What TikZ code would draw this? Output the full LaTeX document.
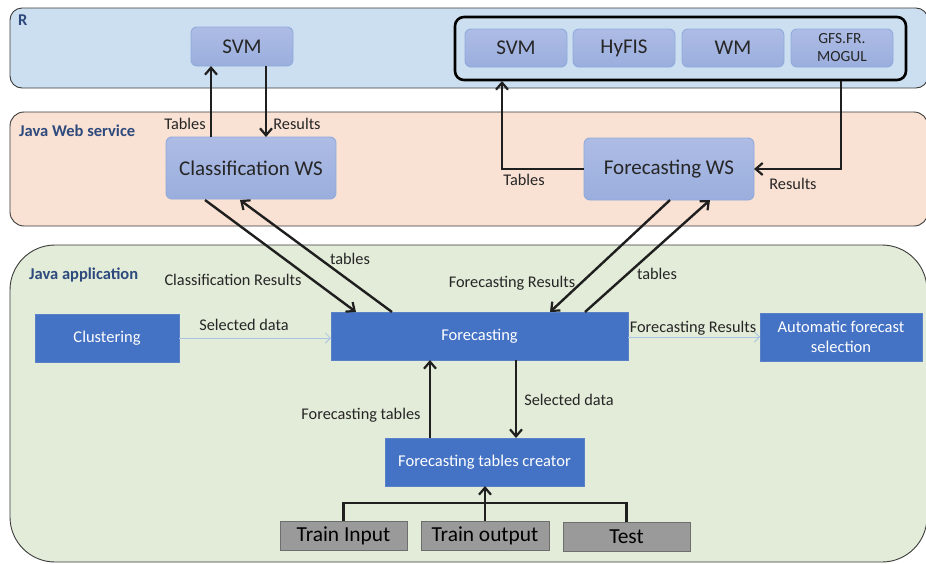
\documentclass[tikz,border=0pt]{standalone}
\usepackage{fontspec}
\setmainfont{Carlito}
\usetikzlibrary{arrows.meta}
\definecolor{rband}{HTML}{CCDFF0}
\definecolor{wsband}{HTML}{F9E1D3}
\definecolor{appband}{HTML}{E2ECD8}
\definecolor{bandline}{HTML}{3A3A3A}
\definecolor{navy}{HTML}{2E4A7D}
\definecolor{svctop}{HTML}{AEBCE5}
\definecolor{svcbot}{HTML}{9AAEDD}
\definecolor{svcline}{HTML}{8FAADC}
\definecolor{modfill}{HTML}{4472C4}
\definecolor{modline}{HTML}{5A80C8}
\definecolor{datafill}{HTML}{9A9A9A}
\definecolor{dataline}{HTML}{6E6E6E}
\definecolor{txt}{HTML}{262626}
\definecolor{thinflow}{HTML}{A9C4E4}
\tikzset{
  band/.style={draw=bandline, line width=0.9pt},
  bandtitle/.style={text=navy, font=\bfseries\fontsize{16.5}{18}\selectfont, anchor=west, inner sep=0},
  svc/.style={draw=svcline, line width=0.9pt, top color=svctop, bottom color=svcbot,
    rounded corners=6pt, inner sep=0, outer sep=0, text=txt},
  svcname/.style={font=\fontsize{21}{23}\selectfont},
  module/.style={draw=modline, line width=0.8pt, fill=modfill, text=white, inner sep=0, outer sep=0,
    font=\fontsize{16.5}{19.5}\selectfont, align=center},
  datafile/.style={draw=dataline, line width=0.9pt, fill=datafill, text=black, inner sep=0, outer sep=0,
    font=\fontsize{21.4}{23}\selectfont},
  flow/.style={line width=2.4pt, draw=black!88, -{Straight Barb[length=7pt,width=12pt,line width=2.2pt]}},
  plain/.style={line width=2.4pt, draw=black!88},
  thin/.style={line width=0.8pt, draw=thinflow, -{Straight Barb[length=5pt,width=10pt,line width=0.8pt]}},
  lbl/.style={text=txt, font=\fontsize{16.3}{18}\selectfont, inner sep=0}
}
\begin{document}
\begin{tikzpicture}[x=1pt,y=-1pt]
\useasboundingbox (0,0) rectangle (926,563);
% layer bands
\draw[band, fill=rband, rounded corners=12pt] (10,8) rectangle (928,88);
\draw[band, fill=wsband, rounded corners=14pt] (10,112) rectangle (928,226);
\draw[band, fill=appband, rounded corners=45pt] (10,245) rectangle (927,562);
\node[bandtitle] (tR) at (18,20) {R};
\node[bandtitle] (tWS) at (19,131) {Java Web service};
\node[bandtitle] (tApp) at (29,275) {Java application};

% R services
\node[svc, svcname, minimum width=102pt, minimum height=39pt] (svmA) at (242,46.5) {SVM};
\draw[line width=2.6pt, rounded corners=9pt] (455,17) rectangle (906,80);
\node[svc, svcname, minimum width=102pt, minimum height=38pt] (svmB) at (516,48) {SVM};
\node[svc, svcname, minimum width=102pt, minimum height=38pt] (hyfis) at (624,48) {HyFIS};
\node[svc, svcname, minimum width=102pt, minimum height=38pt] (wm) at (733,48) {WM};
\node[svc, minimum width=102pt, minimum height=38pt, font=\fontsize{15.5}{18}\selectfont, align=center] (gfs) at (842,48) {GFS.FR.\\MOGUL};
\coordinate (grpL) at (502,81);
\coordinate (grpR) at (841,81);

% web services
\node[svc, minimum width=170pt, minimum height=62pt, font=\fontsize{21}{23}\selectfont] (cws) at (251,168) {Classification WS};
\node[svc, minimum width=170pt, minimum height=62pt, font=\fontsize{21}{23}\selectfont] (fws) at (669,169) {Forecasting WS};

% application modules
\node[module, minimum width=144pt, minimum height=48pt] (clu) at (107,338) {Clustering};
\node[module, minimum width=297pt, minimum height=48pt] (fc) at (479.5,336) {Forecasting};
\node[module, minimum width=162pt, minimum height=48pt] (afs) at (841,337) {Automatic forecast\\selection};
\node[module, minimum width=199pt, minimum height=48pt] (ftc) at (484.5,462) {Forecasting tables creator};

% input data
\node[datafile, minimum width=127pt, minimum height=29pt] (tin) at (343.5,535.5) {Train Input};
\node[datafile, minimum width=128pt, minimum height=29pt] (tout) at (485,535.5) {Train output};
\node[datafile, minimum width=127pt, minimum height=29pt] (test) at (626.5,536.5) {Test};

% Classification WS <-> SVM
\draw[flow] (cws.north -| 211,0) -- (svmA.south -| 211,0);
\draw[flow] (svmA.south -| 266,0) -- (cws.north -| 266,0);
\node[lbl] (lTab1) at (185,124) {Tables};
\node[lbl] (lRes1) at (297,124) {Results};

% Forecasting WS <-> R models
\draw[flow] (fws.west) -- (502,169) -- (grpL);
\draw[flow] (grpR) -- (841,169) -- (fws.east);
\node[lbl] (lTab2) at (524,180) {Tables};
\node[lbl] (lRes2) at (793,184) {Results};

% Forecasting <-> Classification WS
\coordinate (cwsA) at (205,200);
\coordinate (cwsB) at (240,200);
\coordinate (fcA) at (356,312);
\coordinate (fcB) at (392,312);
\draw[flow] (cwsA) -- (fcA);
\draw[flow] (fcB) -- (cwsB);
\node[lbl] (lCR) at (233,280) {Classification Results};
\node[lbl] (lT3) at (350,259) {tables};

% Forecasting <-> Forecasting WS
\coordinate (fwsA) at (670,200);
\coordinate (fwsB) at (710,200);
\coordinate (fcC) at (550,312);
\coordinate (fcD) at (585,312);
\draw[flow] (fwsA) -- (fcC);
\draw[flow] (fcD) -- (fwsB);
\node[lbl] (lFR) at (512,283) {Forecasting Results};
\node[lbl] (lT4) at (657,274) {tables};

% thin data flows
\draw[thin] (clu.east) -- (clu.east -| fc.west);
\node[lbl] (lSD1) at (244,325) {Selected data};
\draw[thin] (fc.east |- afs.west) -- (afs.west);
\node[lbl] (lFR2) at (693,328) {Forecasting Results};

% Forecasting <-> tables creator
\draw[flow] (ftc.north -| 430,0) -- (fc.south -| 430,0);
\draw[flow] (fc.south -| 516,0) -- (ftc.north -| 516,0);
\node[lbl] (lFT) at (361,415) {Forecasting tables};
\node[lbl] (lSD2) at (569,400) {Selected data};

% inputs into tables creator
\draw[plain] (tin.north) -- (343.5,503) -- (626.5,503) -- (test.north);
\draw[flow] (tout.north) -- (ftc.south -| tout.north);
\end{tikzpicture}
\end{document}
